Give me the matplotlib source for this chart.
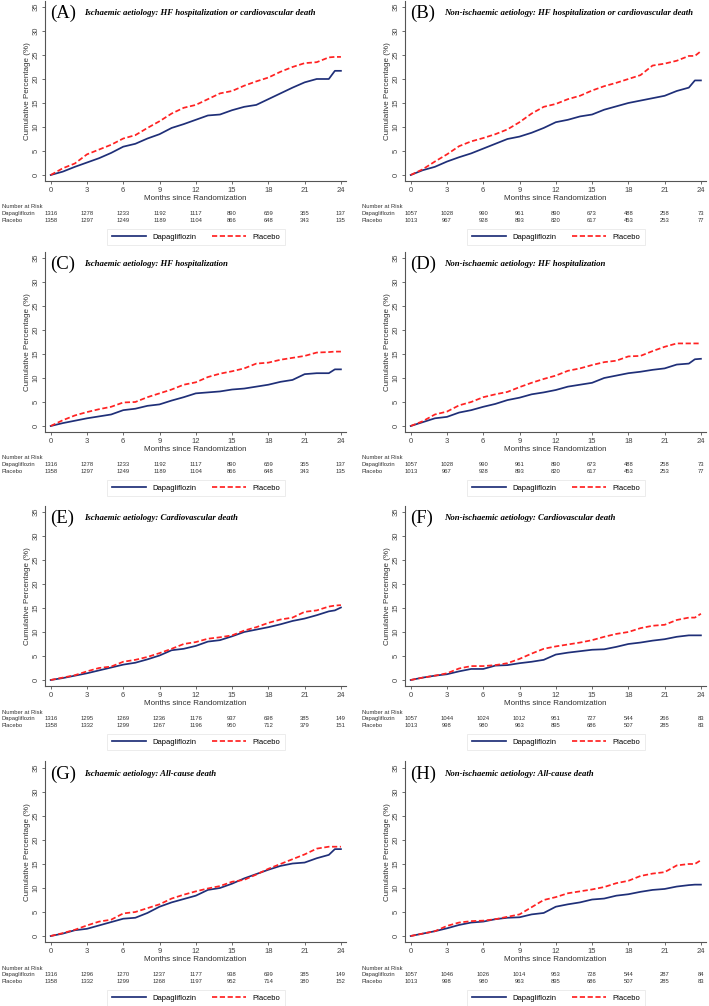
import matplotlib
matplotlib.use("Agg")
import matplotlib.pyplot as plt
from matplotlib.lines import Line2D
from matplotlib.transforms import blended_transform_factory

W, H = 709, 1006

months = [0, 1, 2, 3, 4, 5, 6, 7, 8, 9, 10, 11, 12, 13, 14, 15, 16, 17, 18, 19,
          20, 21, 22, 23, 23.5, 24]
risk_months = [0, 3, 6, 9, 12, 15, 18, 21, 24]

# cumulative percentage
a_dapa = [0, 0.7, 1.7, 2.6, 3.5, 4.6, 5.9, 6.5, 7.6, 8.5, 9.8, 10.6, 11.5, 12.4, 12.6, 13.5,
          14.2, 14.6, 15.8, 17.0, 18.2, 19.3, 20.0, 20.0, 21.7, 21.7]
a_plac = [0, 1.4, 2.4, 4.3, 5.3, 6.3, 7.6, 8.3, 9.8, 11.2, 12.8, 14.0, 14.6, 15.8, 17.0, 17.5,
          18.6, 19.5, 20.3, 21.5, 22.5, 23.3, 23.5, 24.5, 24.6, 24.6]
b_dapa = [0, 1.0, 1.7, 2.8, 3.7, 4.5, 5.5, 6.5, 7.5, 8.0, 8.8, 9.8, 11.0, 11.5, 12.2, 12.6,
          13.6, 14.3, 15.0, 15.5, 16.0, 16.5, 17.5, 18.2, 19.7, 19.7]
b_plac = [0, 1.2, 2.8, 4.3, 6.0, 7.0, 7.7, 8.5, 9.5, 11.0, 12.8, 14.2, 14.8, 15.8, 16.5, 17.6,
          18.5, 19.2, 20.0, 20.8, 22.8, 23.2, 23.8, 24.8, 24.8, 25.8]
c_dapa = [0, 0.6, 1.1, 1.6, 2.0, 2.4, 3.3, 3.6, 4.2, 4.5, 5.3, 6.0, 6.8, 7.0, 7.2, 7.6,
          7.8, 8.2, 8.6, 9.2, 9.6, 10.8, 11.0, 11.0, 11.8, 11.8]
c_plac = [0, 1.2, 2.2, 2.9, 3.5, 4.0, 4.9, 5.0, 6.0, 6.8, 7.6, 8.6, 9.1, 10.2, 10.9, 11.4,
          12.0, 13.0, 13.2, 13.8, 14.2, 14.6, 15.3, 15.4, 15.5, 15.5]
d_dapa = [0, 0.8, 1.6, 1.9, 2.8, 3.3, 4.0, 4.6, 5.4, 5.9, 6.6, 7.0, 7.5, 8.2, 8.6, 9.0,
          10.0, 10.5, 11.0, 11.3, 11.7, 12.0, 12.8, 13.0, 13.9, 14.0]
d_plac = [0, 1.0, 2.4, 3.0, 4.3, 5.0, 6.0, 6.6, 7.1, 8.1, 9.0, 9.8, 10.5, 11.5, 12.0, 12.7,
          13.3, 13.6, 14.5, 14.6, 15.6, 16.5, 17.2, 17.2, 17.2, 17.2]
e_dapa = [0, 0.4, 0.9, 1.4, 2.0, 2.6, 3.2, 3.6, 4.3, 5.1, 6.2, 6.5, 7.1, 8.0, 8.3, 9.1,
          10.0, 10.5, 11.0, 11.6, 12.3, 12.8, 13.5, 14.3, 14.5, 15.1]
e_plac = [0, 0.5, 1.0, 1.8, 2.5, 2.8, 3.8, 4.2, 4.8, 5.6, 6.5, 7.5, 7.9, 8.6, 8.9, 9.3,
          10.3, 11.0, 11.9, 12.6, 13.0, 14.2, 14.5, 15.3, 15.5, 15.6]
f_dapa = [0, 0.5, 0.9, 1.2, 1.8, 2.3, 2.3, 3.0, 3.1, 3.5, 3.8, 4.2, 5.3, 5.7, 6.0, 6.3,
          6.4, 6.9, 7.5, 7.8, 8.2, 8.5, 9.0, 9.3, 9.3, 9.3]
f_plac = [0, 0.5, 0.9, 1.4, 2.4, 2.9, 2.9, 3.1, 3.5, 4.4, 5.5, 6.5, 7.0, 7.4, 7.8, 8.3,
          9.0, 9.6, 10.0, 10.8, 11.3, 11.5, 12.5, 13.0, 13.0, 13.8]
g_dapa = [0, 0.5, 1.2, 1.5, 2.2, 2.9, 3.6, 3.8, 4.8, 6.1, 7.0, 7.7, 8.4, 9.6, 10.0, 10.9,
          12.0, 12.9, 13.8, 14.6, 15.1, 15.3, 16.2, 16.9, 18.1, 18.1]
g_plac = [0, 0.6, 1.3, 2.2, 3.0, 3.4, 4.7, 5.0, 5.8, 6.6, 7.8, 8.6, 9.3, 9.9, 10.4, 11.3,
          11.7, 12.8, 14.0, 15.0, 16.0, 17.0, 18.2, 18.6, 18.6, 18.6]
h_dapa = [0, 0.5, 1.0, 1.6, 2.3, 2.8, 3.0, 3.5, 3.8, 3.9, 4.5, 4.8, 6.1, 6.6, 7.0, 7.6,
          7.8, 8.4, 8.7, 9.2, 9.6, 9.8, 10.3, 10.6, 10.7, 10.7]
h_plac = [0, 0.5, 1.0, 2.1, 2.8, 3.1, 3.2, 3.5, 4.0, 4.5, 6.0, 7.5, 8.1, 8.9, 9.3, 9.7,
          10.2, 11.0, 11.5, 12.5, 13.0, 13.3, 14.7, 15.0, 15.0, 15.8]

# number at risk
isch_risk_dapa = [1316, 1278, 1233, 1192, 1117, 890, 659, 355, 137]
isch_risk_plac = [1358, 1297, 1249, 1189, 1104, 866, 648, 343, 135]
nonisch_risk_dapa = [1057, 1028, 990, 961, 890, 673, 488, 258, 73]
nonisch_risk_plac = [1013, 967, 928, 893, 820, 617, 453, 253, 77]
e_risk_dapa = [1316, 1295, 1269, 1236, 1176, 937, 698, 385, 149]
e_risk_plac = [1358, 1332, 1299, 1267, 1196, 950, 712, 379, 151]
f_risk_dapa = [1057, 1044, 1024, 1012, 951, 727, 544, 266, 83]
f_risk_plac = [1013, 998, 980, 963, 895, 686, 507, 285, 83]
g_risk_dapa = [1316, 1296, 1270, 1237, 1177, 938, 699, 385, 149]
g_risk_plac = [1358, 1332, 1299, 1268, 1197, 952, 714, 380, 152]
h_risk_dapa = [1057, 1046, 1026, 1014, 953, 728, 544, 287, 84]
h_risk_plac = [1013, 998, 980, 963, 895, 686, 507, 285, 83]

letters = ["A", "B", "C", "D", "E", "F", "G", "H"]
titles = [
    "Ischaemic aetiology: HF hospitalization or cardiovascular death",
    "Non-ischaemic aetiology: HF hospitalization or cardiovascular death",
    "Ischaemic aetiology: HF hospitalization",
    "Non-ischaemic aetiology: HF hospitalization",
    "Ischaemic aetiology: Cardiovascular death",
    "Non-ischaemic aetiology: Cardiovascular death",
    "Ischaemic aetiology: All-cause death",
    "Non-ischaemic aetiology: All-cause death",
]

BLUE = "#1f2f78"
RED = "#ff2222"
SANS = "Liberation Sans"
SERIF = "Liberation Serif"


def fx(x):
    return x / W


def fy(y):
    return 1 - y / H


def panel(fig, px, py, letter, title, dapa, plac, rdapa, rplac):
    ax = fig.add_axes([fx(px + 45), fy(py + 181), 301 / W, 180.5 / H])
    ax.plot(months, dapa, color=BLUE, lw=1.25, label="Dapagliflozin")
    ax.plot(months, plac, color=RED, lw=1.25, ls=(0, (3, 1.5)), label="Placebo")
    ax.set_xlim(-0.47, 24.42)
    ax.set_ylim(-1.25, 36.35)
    ax.set_xticks(risk_months)
    ax.set_yticks(range(0, 36, 5))
    for s in ["top", "right"]:
        ax.spines[s].set_visible(False)
    for s in ["left", "bottom"]:
        ax.spines[s].set_color("#555555")
        ax.spines[s].set_linewidth(0.8)
    ax.tick_params(axis="both", length=2.5, width=0.6, color="#555555",
                   labelsize=5.5, labelcolor="#444444", pad=1.5)
    for lab in ax.get_yticklabels():
        lab.set_rotation(90)
        lab.set_va("center")
        lab.set_family(SANS)
    for lab in ax.get_xticklabels():
        lab.set_family(SANS)
    ax.set_xlabel("Months since Randomization", fontsize=5.8, family=SANS,
                  color="#333333", labelpad=1)
    ax.set_ylabel("Cumulative Percentage (%)", fontsize=5.8, family=SANS,
                  color="#333333", labelpad=1)

    fig.text(fx(px + 50), fy(py + 13), "(" + letter + ")", family=SERIF,
             fontsize=13.5, va="center", ha="left")
    fig.text(fx(px + 84), fy(py + 13), title, family=SERIF, fontsize=6.3,
             fontweight="bold", style="italic", va="center", ha="left")

    # number at risk table
    tr = blended_transform_factory(ax.transData, fig.transFigure)
    fig.text(fx(px + 2), fy(py + 207), "Number at Risk", fontsize=4.2,
             family=SANS, va="center", color="#333333")
    fig.text(fx(px + 2), fy(py + 213.5), "Dapagliflozin", fontsize=4.2,
             family=SANS, va="center", color="#333333")
    fig.text(fx(px + 2), fy(py + 220.5), "Placebo", fontsize=4.2,
             family=SANS, va="center", color="#333333")
    for m, n1, n2 in zip(risk_months, rdapa, rplac):
        ax.text(m, fy(py + 213.5), str(n1), transform=tr, fontsize=4.2,
                family=SANS, ha="center", va="center", color="#333333")
        ax.text(m, fy(py + 220.5), str(n2), transform=tr, fontsize=4.2,
                family=SANS, ha="center", va="center", color="#333333")

    handles = [Line2D([], [], color=BLUE, lw=1.25),
               Line2D([], [], color=RED, lw=1.25, ls=(0, (3, 1.5)))]
    leg = fig.legend(handles, ["Dapagliflozin", "Placebo"], loc="center",
                     bbox_to_anchor=(fx(px + 196), fy(py + 237)), ncol=2,
                     prop={"family": SANS, "size": 5.5}, handlelength=4.5,
                     handletextpad=0.8, columnspacing=2.0, fancybox=False,
                     borderpad=0.6)
    leg.get_frame().set_edgecolor("#e4e4e4")
    leg.get_frame().set_linewidth(0.6)
    return ax


fig = plt.figure(figsize=(W / 100, H / 100), dpi=100)

curves = [(a_dapa, a_plac), (b_dapa, b_plac), (c_dapa, c_plac), (d_dapa, d_plac),
          (e_dapa, e_plac), (f_dapa, f_plac), (g_dapa, g_plac), (h_dapa, h_plac)]
risks = [(isch_risk_dapa, isch_risk_plac), (nonisch_risk_dapa, nonisch_risk_plac),
         (isch_risk_dapa, isch_risk_plac), (nonisch_risk_dapa, nonisch_risk_plac),
         (e_risk_dapa, e_risk_plac), (f_risk_dapa, f_risk_plac),
         (g_risk_dapa, g_risk_plac), (h_risk_dapa, h_risk_plac)]
row_y = [0, 251, 505, 761]
col_x = [0, 360]

for i in range(8):
    px = col_x[i % 2]
    py = row_y[i // 2]
    panel(fig, px, py, letters[i], titles[i], curves[i][0], curves[i][1],
          risks[i][0], risks[i][1])

fig.savefig("out.png", dpi=100)
